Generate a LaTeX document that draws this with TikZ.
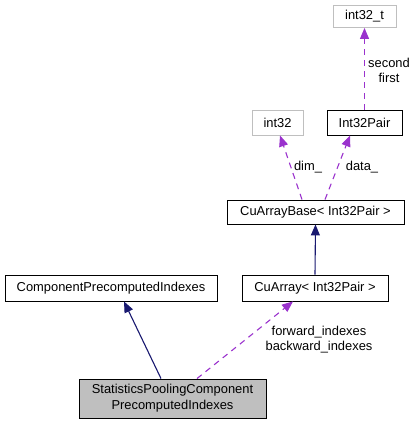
\documentclass[tikz,border=0pt]{standalone}
\usepackage{fontspec}
\setmainfont{Liberation Sans}
\usetikzlibrary{arrows.meta}
\definecolor{edgenavy}{HTML}{191970}
\definecolor{edgepurple}{HTML}{9A32CD}
\definecolor{boxgray}{HTML}{BFBFBF}
\tikzset{
  cls/.style={draw=black, line width=0.9pt, inner sep=0pt, font=\fontsize{12.9}{16}\selectfont, align=center},
  graycls/.style={cls, draw=boxgray},
  inherit/.style={draw=edgenavy, line width=1.1pt, -{Triangle[length=11pt,width=9pt]}},
  usage/.style={draw=edgepurple, line width=1.1pt, dash pattern=on 6pt off 5pt, -{Triangle[length=11pt,width=9pt]}},
  lbl/.style={font=\fontsize{12.9}{15}\selectfont, align=center, inner sep=0pt}
}
\begin{document}
\begin{tikzpicture}[x=1pt,y=-1pt]
\useasboundingbox (0,0) rectangle (417,425);
\node[cls, fill=boxgray, minimum width=187pt, minimum height=39pt] (stats) at (172.5,398.5) {StatisticsPoolingComponent\\PrecomputedIndexes};
\node[cls, minimum width=212pt, minimum height=26pt] (comp) at (111,288) {ComponentPrecomputedIndexes};
\node[cls, minimum width=146pt, minimum height=26pt] (cuarr) at (315,288) {CuArray< Int32Pair >};
\node[cls, minimum width=177pt, minimum height=24pt] (cubase) at (315.5,212) {CuArrayBase< Int32Pair >};
\node[graycls, minimum width=51pt, minimum height=25pt] (int32) at (277.5,122.5) {int32};
\node[cls, minimum width=75pt, minimum height=25pt] (pair) at (364.5,122.5) {Int32Pair};
\node[graycls, minimum width=63pt, minimum height=22pt] (int32t) at (364.5,16.5) {int32\_t};

\draw[inherit] ([xshift=-11.5pt]stats.north) -- ([xshift=13pt]comp.south);
\draw[usage] ([xshift=24.5pt]stats.north) -- ([xshift=-22pt]cuarr.south);
\draw[inherit] (cuarr.north) -- (cubase.south);
\draw[usage] ([xshift=-13.5pt]cubase.north) -- ([xshift=2.5pt]int32.south);
\draw[usage] ([xshift=9.5pt]cubase.north) -- ([xshift=-14.5pt]pair.south);
\draw[usage] (pair.north) -- (int32t.south);

\node[lbl] (lfb) at (319,340) {forward\_indexes\\backward\_indexes};
\node[lbl] (ldim) at (308,167) {dim\_};
\node[lbl] (ldata) at (362,167) {data\_};
\node[lbl] (lsf) at (389,70) {second\\first};
\end{tikzpicture}
\end{document}
